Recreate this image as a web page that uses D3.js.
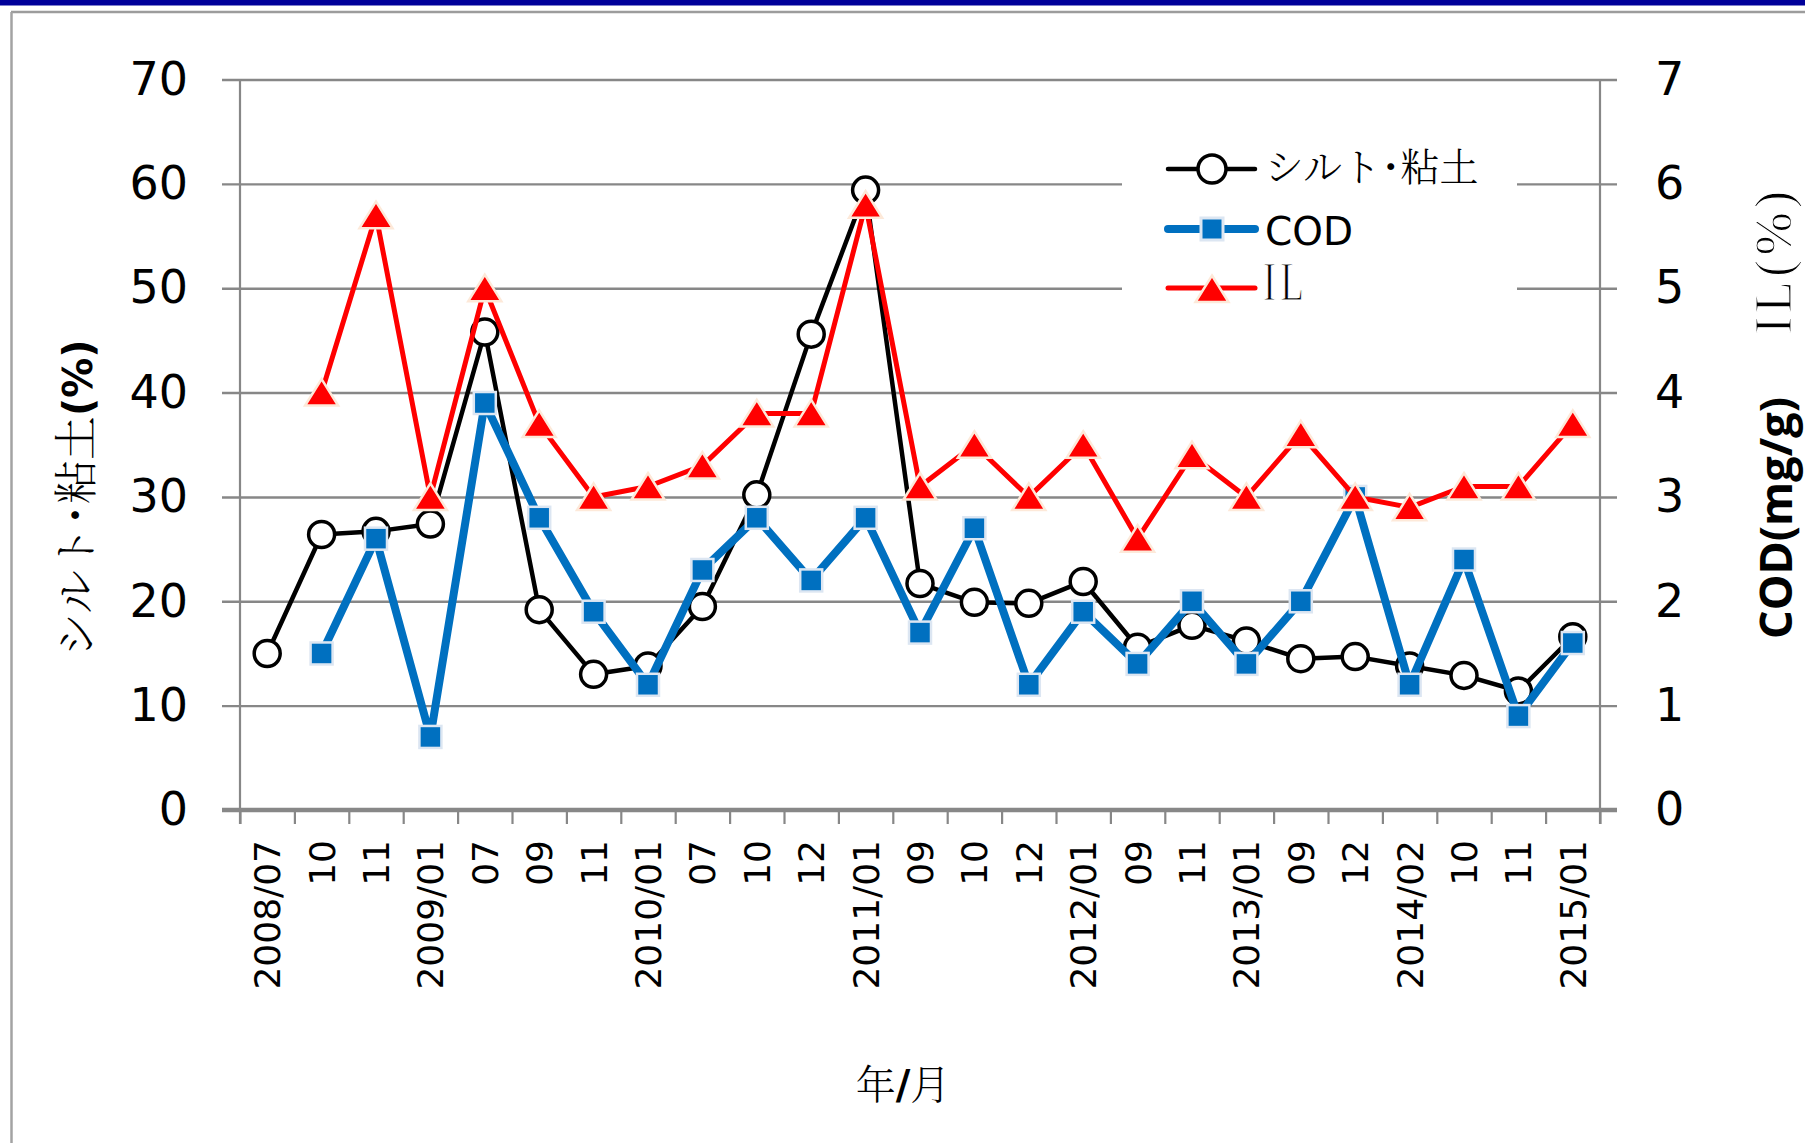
<!DOCTYPE html>
<html>
<head>
<meta charset="utf-8">
<script src="https://cdn.jsdelivr.net/npm/d3@7"></script>
<style>
  html, body { margin: 0; padding: 0; background: #fff; }
  svg { display: block; }
</style>
</head>
<body>
<svg id="chart" width="1805" height="1143"></svg>
<script>
// ---- data ----
const categories = ["2008/07","10","11","2009/01","07","09","11","2010/01","07","10","12","2011/01",
                    "09","10","12","2012/01","09","11","2013/01","09","12","2014/02","10","11","2015/01"];
// シルト・粘土 (%), left axis
const siltClay = [15.0,26.4,26.7,27.4,45.8,19.2,13.0,13.8,19.5,30.2,45.6,59.4,
                  21.7,19.9,19.8,21.9,15.6,17.7,16.2,14.5,14.7,13.8,12.9,11.4,16.6];
// COD (mg/g), right axis
const cod = [null,1.5,2.6,0.7,3.9,2.8,1.9,1.2,2.3,2.8,2.2,2.8,
             1.7,2.7,1.2,1.9,1.4,2.0,1.4,2.0,3.0,1.2,2.4,0.9,1.6];
// IL (%), right axis
const il = [null,4.0,5.7,3.0,5.0,3.7,3.0,3.1,3.3,3.8,3.8,5.8,
            3.1,3.5,3.0,3.5,2.6,3.4,3.0,3.6,3.0,2.9,3.1,3.1,3.7];
const leftTicks = [0,10,20,30,40,50,60,70];
const rightTicks = [0,1,2,3,4,5,6,7];

// ---- layout ----
const svg = d3.select("#chart");
const X0 = 240, X1 = 1600, Y0 = 810, Y1 = 79.5;
const GRID = "#878787";
const NUM_FONT = "'DejaVu Sans', Verdana, sans-serif";
const JP_FONT = "'Noto Serif CJK JP', 'Noto Sans CJK JP', sans-serif";
const SERIF = "'Liberation Serif', 'Times New Roman', serif";

const x = d3.scaleBand().domain(d3.range(categories.length)).range([X0, X1]);
const xEdge = d3.scaleLinear().domain([0, categories.length]).range([X0, X1]);
const yL = d3.scaleLinear().domain([0, 70]).range([Y0, Y1]);
const yR = d3.scaleLinear().domain([0, 7]).range([Y0, Y1]);
const cx = i => x(i) + x.bandwidth() / 2;

// frame: dark blue strip on top, grey border lines
svg.append("rect").attr("x", 0).attr("y", 0).attr("width", 1805).attr("height", 5.5).attr("fill", "#00009a");
svg.append("line").attr("x1", 11).attr("x2", 1805).attr("y1", 12).attr("y2", 12)
   .attr("stroke", "#9c9c9c").attr("stroke-width", 2.5);
svg.append("line").attr("x1", 11.5).attr("x2", 11.5).attr("y1", 12).attr("y2", 1143)
   .attr("stroke", "#a3a3a3").attr("stroke-width", 2.5);

// horizontal gridlines (with outward ticks on both sides)
const grid = svg.append("g").attr("transform", `translate(${X1 + 17},0)`)
  .call(d3.axisLeft(yL).tickValues(leftTicks.slice(1)).tickSize(X1 - X0 + 35).tickFormat(""));
grid.select(".domain").remove();
grid.selectAll("line").attr("stroke", GRID).attr("stroke-width", 2.4);

// vertical axis lines
[X0, X1].forEach(xx => {
  svg.append("line").attr("x1", xx).attr("x2", xx).attr("y1", Y1).attr("y2", Y0 + 14)
     .attr("stroke", GRID).attr("stroke-width", 2.2);
});

// category boundary ticks below the baseline
const xt = svg.append("g").attr("transform", `translate(0,${Y0})`)
  .call(d3.axisBottom(xEdge).tickValues(d3.range(categories.length + 1)).tickSize(14).tickFormat(""));
xt.select(".domain").remove();
xt.selectAll("line").attr("stroke", GRID).attr("stroke-width", 2.2);

// baseline (zero line), thicker
svg.append("line").attr("x1", X0 - 18).attr("x2", X1 + 17).attr("y1", Y0).attr("y2", Y0)
   .attr("stroke", GRID).attr("stroke-width", 4.5);

// left tick labels
const la = svg.append("g").attr("transform", `translate(${X0},0)`)
  .call(d3.axisLeft(yL).tickValues(leftTicks).tickSize(0).tickPadding(52).tickFormat(d3.format("d")));
la.select(".domain").remove();
la.selectAll("text").attr("font-family", NUM_FONT).attr("font-size", 46).attr("fill", "#000");

// right tick labels
const ra = svg.append("g").attr("transform", `translate(${X1},0)`)
  .call(d3.axisRight(yR).tickValues(rightTicks).tickSize(0).tickPadding(55).tickFormat(d3.format("d")));
ra.select(".domain").remove();
ra.selectAll("text").attr("font-family", NUM_FONT).attr("font-size", 46).attr("fill", "#000");

// category labels, rotated
const ba = svg.append("g").attr("transform", `translate(0,${Y0})`)
  .call(d3.axisBottom(x).tickSize(0).tickFormat(i => categories[i]));
ba.select(".domain").remove();
ba.selectAll("text")
  .attr("font-family", NUM_FONT).attr("font-size", 36).attr("fill", "#000")
  .attr("transform", "rotate(-90)")
  .attr("text-anchor", "end")
  .attr("x", -30).attr("y", 0).attr("dy", "0.36em");

// ---- series ----
const line = (yScale) => d3.line()
  .defined(d => d != null)
  .x((d, i) => cx(i))
  .y(d => yScale(d));

function trianglePath() {
  return "M0,-13.5 L16.5,13 L-16.5,13 Z";
}

// silt & clay
svg.append("path").datum(siltClay).attr("d", line(yL))
   .attr("fill", "none").attr("stroke", "#000").attr("stroke-width", 4.5).attr("stroke-linejoin", "round");
svg.append("g").selectAll("circle").data(siltClay.map((v, i) => [v, i]).filter(d => d[0] != null))
   .join("circle").attr("cx", d => cx(d[1])).attr("cy", d => yL(d[0])).attr("r", 13)
   .attr("fill", "#fff").attr("stroke", "#000").attr("stroke-width", 3.5);

// COD
svg.append("path").datum(cod).attr("d", line(yR))
   .attr("fill", "none").attr("stroke", "#0070c0").attr("stroke-width", 8).attr("stroke-linejoin", "round");
svg.append("g").selectAll("rect").data(cod.map((v, i) => [v, i]).filter(d => d[0] != null))
   .join("rect").attr("x", d => cx(d[1]) - 11).attr("y", d => yR(d[0]) - 11)
   .attr("width", 22).attr("height", 22)
   .attr("fill", "#0070c0").attr("stroke", "#dce6f2").attr("stroke-width", 2.5);

// IL
svg.append("path").datum(il).attr("d", line(yR))
   .attr("fill", "none").attr("stroke", "#ff0000").attr("stroke-width", 5).attr("stroke-linejoin", "round");
svg.append("g").selectAll("path").data(il.map((v, i) => [v, i]).filter(d => d[0] != null))
   .join("path").attr("d", trianglePath())
   .attr("transform", d => `translate(${cx(d[1])},${yR(d[0])})`)
   .attr("fill", "#ff0000").attr("stroke", "#fde9d9").attr("stroke-width", 2.5);

// ---- legend ----
svg.append("rect").attr("x", 1122).attr("y", 110).attr("width", 395).attr("height", 210).attr("fill", "#fff");
const lg = svg.append("g");
const LX1 = 1168, LX2 = 1255, LM = 1212, LT = 1265;
// silt
lg.append("line").attr("x1", LX1).attr("x2", LX2).attr("y1", 169).attr("y2", 169)
  .attr("stroke", "#000").attr("stroke-width", 4.5).attr("stroke-linecap", "round");
lg.append("circle").attr("cx", LM).attr("cy", 169).attr("r", 14)
  .attr("fill", "#fff").attr("stroke", "#000").attr("stroke-width", 3.5);
lg.append("text").attr("x", LT).attr("y", 181).attr("font-family", JP_FONT).attr("font-weight", 300)
  .attr("font-size", 39).text("シルト･粘土");
// COD
lg.append("line").attr("x1", LX1).attr("x2", LX2).attr("y1", 229).attr("y2", 229)
  .attr("stroke", "#0070c0").attr("stroke-width", 8).attr("stroke-linecap", "round");
lg.append("rect").attr("x", LM - 11).attr("y", 229 - 11).attr("width", 22).attr("height", 22)
  .attr("fill", "#0070c0").attr("stroke", "#dce6f2").attr("stroke-width", 3);
lg.append("text").attr("x", LT).attr("y", 245).attr("font-family", NUM_FONT)
  .attr("font-size", 39).text("COD");
// IL
lg.append("line").attr("x1", LX1).attr("x2", LX2).attr("y1", 288).attr("y2", 288)
  .attr("stroke", "#ff0000").attr("stroke-width", 5).attr("stroke-linecap", "round");
lg.append("path").attr("d", trianglePath()).attr("transform", `translate(${LM},289)`)
  .attr("fill", "#ff0000").attr("stroke", "#fde9d9").attr("stroke-width", 2.5);
// thin serif look: narrowed and lightly eroded with a white outline
lg.append("text").attr("transform", "translate(1263,300) scale(0.72,1)")
  .attr("font-family", SERIF).attr("font-size", 54).attr("letter-spacing", 6)
  .attr("stroke", "#fff").attr("stroke-width", 1.2)
  .text("IL");

// ---- axis titles ----
const lt = svg.append("text").attr("transform", "translate(92,657) rotate(-90)");
lt.append("tspan").attr("font-family", JP_FONT).attr("font-weight", 300).attr("font-size", 44).text("シルト･粘土");
lt.append("tspan").attr("font-family", NUM_FONT).attr("font-weight", "bold").attr("font-size", 40).text("(%)");

svg.append("text").attr("transform", "translate(1792,639) rotate(-90)")
  .attr("font-family", "'Open Sans', sans-serif").attr("font-weight", 700).attr("font-size", 45)
  .text("COD(mg/g)");
svg.append("text").attr("transform", "translate(1791,334) rotate(-90)")
  .attr("font-family", SERIF).attr("font-size", 52).attr("letter-spacing", 4)
  .attr("stroke", "#fff").attr("stroke-width", 1.2)
  .text("IL(%)");

const bt = svg.append("text").attr("x", 903).attr("y", 1099).attr("text-anchor", "middle");
bt.append("tspan").attr("font-family", JP_FONT).attr("font-weight", 300).attr("font-size", 40).text("年");
bt.append("tspan").attr("font-family", NUM_FONT).attr("font-weight", "bold").attr("font-size", 40).text("/");
bt.append("tspan").attr("font-family", JP_FONT).attr("font-weight", 300).attr("font-size", 40).text("月");
</script>
</body>
</html>
